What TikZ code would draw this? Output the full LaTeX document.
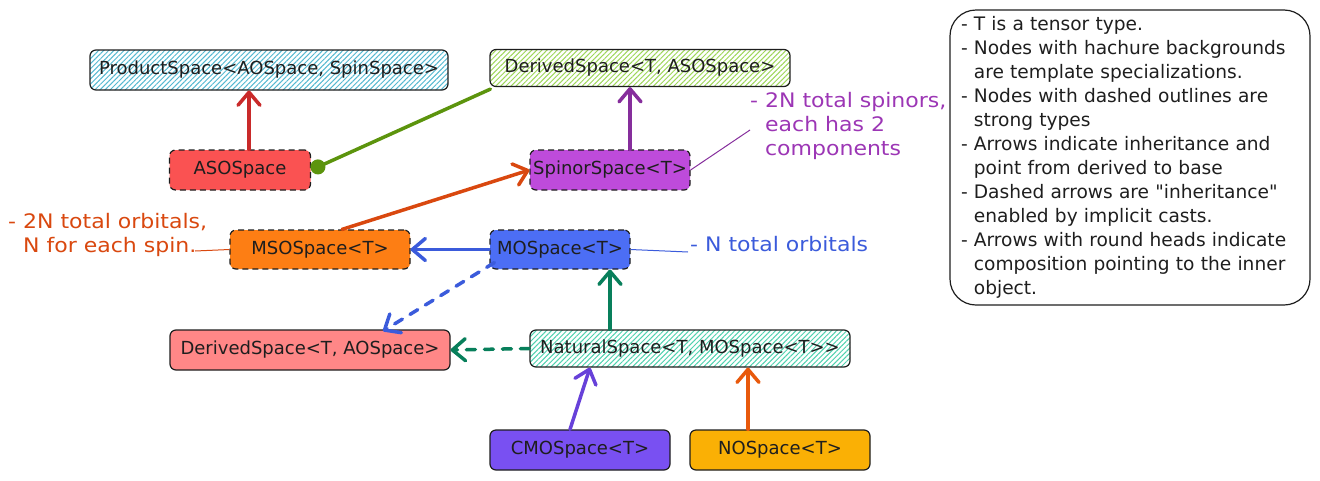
\documentclass[tikz,border=0pt]{standalone}
\usepackage{fontspec}
\setmainfont{DejaVu Sans}
\newfontfamily\notefont[FakeStretch=1.1]{DejaVu Sans}
\newfontfamily\legfont{DejaVu Sans}
\usetikzlibrary{arrows.meta,patterns.meta}
\definecolor{cAso}{HTML}{FA5252}
\definecolor{cSpinor}{HTML}{BE4BDB}
\definecolor{cMso}{HTML}{FD7E14}
\definecolor{cMo}{HTML}{4C6EF5}
\definecolor{cDao}{HTML}{FF8787}
\definecolor{cCmo}{HTML}{7950F2}
\definecolor{cNo}{HTML}{FAB005}
\definecolor{hProd}{HTML}{55B8D0}
\definecolor{hDaso}{HTML}{9ED65A}
\definecolor{hNat}{HTML}{4FD1AE}
\definecolor{aRed}{HTML}{C92A2A}
\definecolor{aGreen}{HTML}{5C940D}
\definecolor{aPurple}{HTML}{862E9C}
\definecolor{aOrRed}{HTML}{D9480F}
\definecolor{aBlue}{HTML}{3B5BDB}
\definecolor{aTeal}{HTML}{087F5B}
\definecolor{aViolet}{HTML}{6741D9}
\definecolor{aOrange}{HTML}{E8590C}
\definecolor{tPurple}{HTML}{9C36B5}
\definecolor{ink}{HTML}{1E1E1E}
\begin{document}
\begin{tikzpicture}[x=1pt,y=-1pt,
  box/.style={draw=ink, line width=1.2pt, rounded corners=6pt, inner sep=0pt,
    font=\fontsize{18}{22}\selectfont, text=ink},
  strong/.style={box, dash pattern=on 6pt off 4pt},
  hatch/.style={box, pattern={Lines[angle=45,distance=3.6pt,line width=1pt]}, pattern color=#1},
  inh/.style={draw=#1, line width=3.5pt, line cap=round, -{Straight Barb[length=13pt,width=22pt,round]}},
  inhd/.style={inh=#1, dash pattern=on 9pt off 9pt},
  comp/.style={draw=#1, line width=3.5pt, line cap=round, -{Circle[length=15pt]}},
  note/.style={font=\notefont\fontsize{20}{24}\selectfont, text=#1, align=left, inner sep=0pt, anchor=north west},
  lead/.style={draw=#1, line width=1pt}
]
\useasboundingbox (0,0) rectangle (1320,480);

% nodes
\node[hatch=hProd, minimum width=358pt, minimum height=40pt] (prod) at (269,70) {ProductSpace<AOSpace, SpinSpace>};
\node[hatch=hDaso, minimum width=300pt, minimum height=37pt] (daso) at (640,68) {DerivedSpace<T, ASOSpace>};
\node[strong, fill=cAso, minimum width=141pt, minimum height=40pt] (aso) at (240,170) {ASOSpace};
\node[strong, fill=cSpinor, minimum width=160pt, minimum height=40pt] (spinor) at (610,170) {SpinorSpace<T>};
\node[strong, fill=cMso, minimum width=180pt, minimum height=39pt] (mso) at (320,249.5) {MSOSpace<T>};
\node[strong, fill=cMo, minimum width=140pt, minimum height=39pt] (mo) at (560,249.5) {MOSpace<T>};
\node[box, fill=cDao, minimum width=280pt, minimum height=40pt] (dao) at (310,350) {DerivedSpace<T, AOSpace>};
\node[hatch=hNat, minimum width=320pt, minimum height=37pt] (nat) at (690,348.5) {NaturalSpace<T, MOSpace<T>{}>};
\node[box, fill=cCmo, minimum width=180pt, minimum height=40pt] (cmo) at (580,450) {CMOSpace<T>};
\node[box, fill=cNo, minimum width=180pt, minimum height=40pt] (no) at (780,450) {NOSpace<T>};

% connectors
\draw[inh=aRed] (aso.north -| 249,0) -- (prod.south -| 249,0);
\draw[comp=aGreen] (daso.south west) ++(1,2) coordinate (g1) -- (aso.east);
\draw[inh=aPurple] (spinor.north -| 630,0) -- (daso.south -| 630,0);
\draw[inh=aOrRed] (mso.north -| 342,0) -- (spinor.west);
\draw[inh=aBlue] (mo.west) -- (mso.east);
\draw[inhd=aBlue] (mo.south west) ++(5,-7) coordinate (b1) -- (383,331);
\draw[inh=aTeal] (nat.north -| 610,0) -- (mo.south -| 610,0);
\draw[inhd=aTeal] (nat.west) -- (dao.east);
\draw[inh=aViolet] (cmo.north -| 570,0) -- (nat.south -| 590,0);
\draw[inh=aOrange] (no.north -| 748,0) -- (nat.south -| 748,0);

% annotations
\node[note=tPurple] (nspin) at (750,92) {- 2N total spinors,\\\phantom{- }each has 2\\\phantom{- }components};
\coordinate (lspin) at (750,130);
\draw[lead=aPurple] (spinor.east) -- (lspin);

\node[note=aOrRed] (norb) at (8,213) {- 2N total orbitals,\\\phantom{- }N for each spin.};
\coordinate (lorb) at (195,251);
\draw[lead=aOrRed] (lorb) -- (mso.west);

\node[note=aBlue] (nmo) at (690,236) {- N total orbitals};
\coordinate (lmo) at (688,252);
\draw[lead=aBlue] (mo.east) -- (lmo);

% legend
\node[draw=ink, line width=1.2pt, rounded corners=26pt, minimum width=360pt, minimum height=295pt,
  inner xsep=7pt, text width=346pt, align=left, text=ink, font=\legfont\fontsize{18.6}{24}\selectfont] (legend) at (1130,157.5)
{\hspace*{4pt}- T is a tensor type.\\
\hspace*{4pt}- Nodes with hachure backgrounds\\
\hspace*{4pt}\phantom{- }are template specializations.\\
\hspace*{4pt}- Nodes with dashed outlines are\\
\hspace*{4pt}\phantom{- }strong types\\
\hspace*{4pt}- Arrows indicate inheritance and\\
\hspace*{4pt}\phantom{- }point from derived to base\\
\hspace*{4pt}- Dashed arrows are "inheritance"\\
\hspace*{4pt}\phantom{- }enabled by implicit casts.\\
\hspace*{4pt}- Arrows with round heads indicate\\
\hspace*{4pt}\phantom{- }composition pointing to the inner\\
\hspace*{4pt}\phantom{- }object.};
\end{tikzpicture}
\end{document}
